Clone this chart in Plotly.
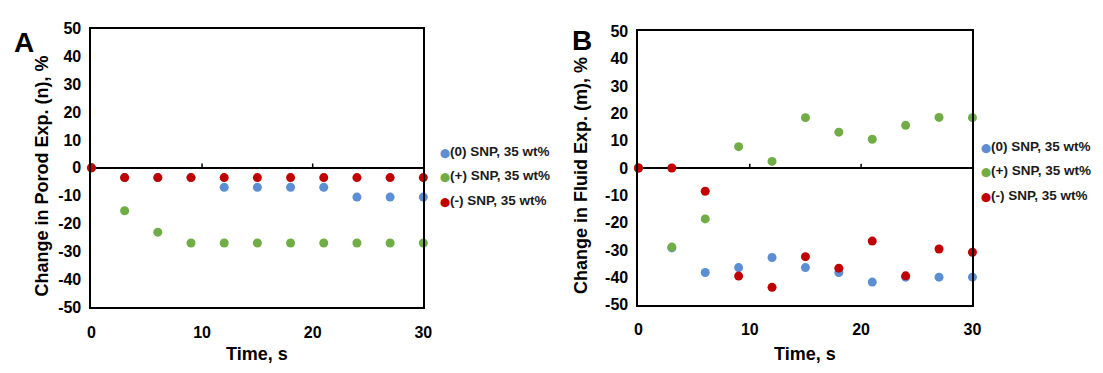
import plotly.graph_objects as go

# Time points (s)
time_s = [0, 3, 6, 9, 12, 15, 18, 21, 24, 27, 30]

# Panel A: change in Porod exponent (n), %
porod_zero = [0, -3.5, -3.5, -3.5, -7.0, -7.0, -7.0, -7.0, -10.5, -10.5, -10.5]
porod_plus = [0, -15.4, -23.1, -27.0, -27.0, -27.0, -27.0, -27.0, -27.0, -27.0, -27.0]
porod_minus = [0, -3.5, -3.5, -3.5, -3.5, -3.5, -3.5, -3.5, -3.5, -3.5, -3.5]

# Panel B: change in fluid exponent (m), %
fluid_zero = [0, -29.2, -38.2, -36.4, -32.7, -36.4, -38.2, -41.7, -39.9, -39.9, -39.9]
fluid_plus = [0, -28.9, -18.6, 7.8, 2.4, 18.4, 13.1, 10.5, 15.6, 18.5, 18.4]
fluid_minus = [0, 0, -8.5, -39.5, -43.6, -32.4, -36.6, -26.7, -39.4, -29.6, -30.8]

series_names = ["(0) SNP, 35 wt%", "(+) SNP, 35 wt%", "(-) SNP, 35 wt%"]
series_colors = ["#5B8ED2", "#70AD47", "#C00000"]

x_ticks = [0, 10, 20, 30]
y_ticks = list(range(-50, 51, 10))

W, H = 1103, 373
FONT = "Liberation Sans, Arial, sans-serif"


def px(x):
    return x / W


def py(y):
    return 1 - y / H


fig = go.Figure()

panels = [
    ("x", "y", [porod_zero, porod_plus, porod_minus]),
    ("x2", "y2", [fluid_zero, fluid_plus, fluid_minus]),
]
for xa, ya, data in panels:
    for name, color, vals in zip(series_names, series_colors, data):
        fig.add_trace(go.Scatter(
            x=time_s, y=vals, mode="markers", name=name,
            marker=dict(color=color, size=9, line=dict(width=0)),
            xaxis=xa, yaxis=ya, cliponaxis=False, showlegend=False,
        ))

axis_common = dict(
    showgrid=False, showline=True, linecolor="#000000", linewidth=2,
    mirror=True, ticks="",
    tickfont=dict(family=FONT, size=16, color="#000000"),
)
x_tick_text = [f"<b>{t}</b>" for t in x_ticks]
y_tick_text = [f"<b>{t}</b>" for t in y_ticks]

fig.update_layout(
    width=W, height=H,
    margin=dict(l=0, r=0, t=0, b=0),
    paper_bgcolor="white", plot_bgcolor="white",
    showlegend=False,
    xaxis=dict(domain=[px(88.5), px(424.3)], range=[0, 30], tickvals=x_ticks,
               ticktext=x_tick_text, anchor="y", ticklabelstandoff=10,
               zeroline=False, **axis_common),
    yaxis=dict(domain=[py(313.3), py(21.7)], range=[-50, 50], tickvals=y_ticks,
               ticktext=y_tick_text, anchor="x", ticklabelstandoff=5, zeroline=True,
               zerolinecolor="#000000", zerolinewidth=2, **axis_common),
    xaxis2=dict(domain=[px(642), px(980)], range=[0, 30], tickvals=x_ticks,
                ticktext=x_tick_text, anchor="y2", ticklabelstandoff=9,
                zeroline=False, **axis_common),
    yaxis2=dict(domain=[py(311), py(24.3)], range=[-50, 50], tickvals=y_ticks,
                ticktext=y_tick_text, anchor="x2", ticklabelstandoff=5, zeroline=True,
                zerolinecolor="#000000", zerolinewidth=2, **axis_common),
)

# Small tick marks on the zero line at the inner x ticks
for xa, ya in [("x", "y"), ("x2", "y2")]:
    for t in x_ticks[1:-1]:
        fig.add_shape(type="line", xref=xa, yref=ya, x0=t, x1=t, y0=0, y1=1.6,
                      line=dict(color="#000000", width=1.5))

title_font = dict(family=FONT, size=18, color="#000000")
annotations = [
    # panel letters
    dict(x=px(20), y=py(36), text="<b>A</b>", font=dict(family=FONT, size=28, color="#000000")),
    dict(x=px(585), y=py(34), text="<b>B</b>", font=dict(family=FONT, size=28, color="#000000")),
    # axis titles
    dict(x=px(38), y=py(176), text="<b>Change in Porod Exp. (n), %</b>", textangle=-90, font=title_font),
    dict(x=px(584), y=py(176), text="<b>Change in Fluid Exp. (m), %</b>", textangle=-90, font=title_font),
    dict(x=px(256), y=py(362), text="<b>Time, s</b>", font=title_font),
    dict(x=px(811), y=py(362), text="<b>Time, s</b>", font=title_font),
]
for a in annotations:
    a.update(xref="paper", yref="paper", showarrow=False, xanchor="center", yanchor="middle")

# Legend entries beside each panel
legend_pos = [(439, [150.5, 176, 202]), (987, [145, 170.5, 196])]
for lx, ys in legend_pos:
    for name, color, yy in zip(series_names, series_colors, ys):
        annotations.append(dict(
            x=px(lx), y=py(yy), xref="paper", yref="paper", showarrow=False,
            xanchor="left", yanchor="middle",
            text=f'<span style="color:{color};font-size:9px">⬤</span><b>{name}</b>',
            font=dict(family=FONT, size=13.5, color="#1a1a1a"),
        ))

fig.update_layout(annotations=annotations)

fig.write_html("out.html")
